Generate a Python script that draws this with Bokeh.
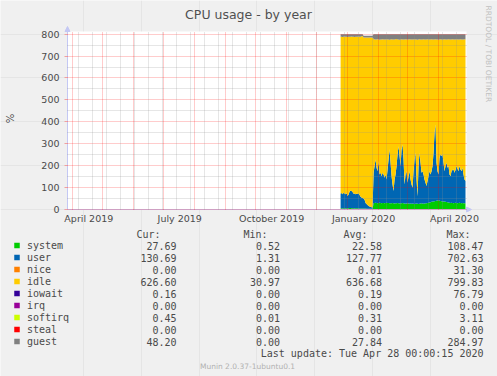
import pandas as pd
from math import pi
from bokeh.plotting import figure
from bokeh.models import (ColumnDataSource, Range1d, FixedTicker, Grid, DatetimeTickFormatter,
                          LinearAxis, DatetimeAxis, BoxAnnotation, Arrow, NormalHead)
from bokeh.core.properties import value
from bokeh.embed import file_html
from bokeh.resources import INLINE

# ---------------- data (daily averages) ----------------
first_day = "2019-12-25"

system = [6, 6, 5, 6, 6, 5, 6, 5, 6, 7, 7, 6, 6, 6, 5, 6, 6, 6, 5, 5,
          5, 4, 4, 4, 4, 4, 3, 3, 3, 3, 3, 3, 3,
          28, 30, 31, 30, 29, 30, 31, 30, 29, 30, 30, 29, 30, 31, 30,
          30, 29, 28, 29, 30, 28, 27, 28, 29, 30, 28, 27, 28, 29, 30, 28, 27, 26, 27, 28, 27, 26, 27,
          26, 27, 26, 25, 26, 27, 26, 25, 26, 27, 28, 27, 26, 27, 28, 29, 30, 31, 32, 33,
          35, 36, 37, 38, 39, 40, 41, 42, 40, 39, 38, 37, 36, 37, 35, 34, 33, 32,
          31, 30, 31, 30, 29, 30, 31, 30, 29, 30, 31, 30, 29, 30, 29, 28, 28]

user = [66, 69, 65, 70, 67, 65, 68, 57, 62, 75, 78, 78, 74, 66, 68, 64, 66, 65, 69, 61,
        53, 51, 48, 46, 41, 26, 22, 17, 13, 11, 9, 7, 6,
        140, 168, 197, 160, 146, 190, 129, 138, 123, 138, 130, 116, 130, 106, 153,
        198, 246, 185, 123, 84, 56, 110, 132, 169, 221, 261, 217, 170, 245, 267, 200, 87, 134, 148, 94, 125, 149, 110,
        88, 72, 149, 203, 233, 110, 35, 173, 233, 186, 140, 148, 134, 110, 94, 78, 100, 121, 143, 127,
        140, 162, 222, 312, 349, 173, 134, 118, 196, 212, 206, 214, 177, 138, 163, 179, 157, 166,
        129, 122, 144, 150, 154, 138, 149, 168, 157, 145, 167, 153, 146, 160, 131, 109, 102]

idle = [716, 713, 717, 712, 716, 718, 714, 725, 720, 706, 703, 705, 708, 716, 714, 718, 716, 717, 715, 722,
        730, 735, 739, 735, 740, 755, 760, 765, 769, 771, 773, 775, 776,
        610, 578, 547, 586, 602, 556, 614, 607, 624, 609, 616, 630, 616, 640, 593,
        547, 499, 563, 625, 662, 691, 639, 617, 580, 525, 486, 530, 578, 503, 479, 547, 662, 617, 601, 653, 624, 602, 639,
        662, 676, 601, 549, 517, 638, 713, 578, 518, 563, 607, 601, 617, 639, 653, 669, 647, 624, 600, 616,
        602, 578, 516, 426, 389, 563, 600, 614, 540, 526, 532, 524, 563, 602, 578, 562, 586, 579,
        616, 623, 601, 597, 593, 607, 596, 579, 590, 600, 578, 594, 601, 585, 616, 640, 646]

guest = [12, 12, 13, 12, 11, 12, 12, 13, 12, 12, 12, 11, 12, 12, 13, 12, 12, 12, 11, 12,
         12, 10, 9, 8, 8, 8, 8, 8, 8, 8, 8, 8, 8,
         22, 24, 25, 24, 23, 24, 26, 25, 24, 23, 24, 25, 24, 23, 24,
         25, 26, 24, 23, 24, 25, 24, 23, 22, 24, 25, 26, 24, 23, 24, 25, 24, 23, 24, 25, 24, 23, 24,
         24, 25, 24, 23, 24, 25, 26, 24, 23, 24, 25, 24, 23, 24, 25, 24, 23, 24, 25, 24,
         23, 24, 25, 24, 23, 24, 25, 26, 24, 23, 24, 25, 24, 23, 24, 25, 24, 23,
         24, 25, 24, 23, 24, 25, 24, 23, 24, 25, 24, 23, 24, 25, 24, 23, 24]

series_names = ["system", "user", "nice", "idle", "iowait", "irq", "softirq", "steal", "guest"]
series_colors = ["#00CC00", "#0066B3", "#FF8000", "#FFCC00", "#330099", "#990099", "#CCFF00", "#FF0000", "#808080"]
cur_vals = ["27.69", "130.69", "0.00", "626.60", "0.16", "0.00", "0.45", "0.00", "48.20"]
min_vals = ["0.52", "1.31", "0.00", "30.97", "0.00", "0.00", "0.01", "0.00", "0.00"]
avg_vals = ["22.58", "127.77", "0.01", "636.68", "0.19", "0.00", "0.31", "0.00", "27.84"]
max_vals = ["108.47", "702.63", "31.30", "799.83", "76.79", "0.00", "3.11", "0.00", "284.97"]
col_heads = ["Cur:", "Min:", "Avg:", "Max:"]

x_labels_at = ["2019-04-17", "2019-07-17", "2019-10-17", "2020-01-17", "2020-04-17"]
y_ticks = [0, 100, 200, 300, 400, 500, 600, 700, 800]
y_top = 812
x_start, x_end = "2019-03-26 16:00", "2020-04-29 00:00"

title_text = "CPU usage - by year"
side_text = "RRDTOOL / TOBI OETIKER"
update_text = "Last update: Tue Apr 28 00:00:15 2020"
version_text = "Munin 2.0.37-1ubuntu0.1"

# ---------------- layout constants (page pixels) ----------------
W, H = 497, 376
CL, CR, CT, CB = 67, 466, 31, 209        # chart area inside the page
BG = "#F0F0F0"
TXT = "#4a4a4a"
AXC = "#c4c8f4"
MONO = value("DejaVu Sans Mono")
SANS = value("DejaVu Sans")


def ms(t):
    return pd.Timestamp(t).value / 1e6


X0, X1 = ms(x_start), ms(x_end)
ms_px = (X1 - X0) / (CR - CL)
u_px = y_top / (CB - CT)

# one frame covering the whole page; the chart's ranges are widened so that
# the chart occupies its place in the page
p = figure(width=W, height=H, title=None, output_backend="svg", toolbar_location=None,
           x_axis_location=None, y_axis_location=None,
           x_range=Range1d(X0 - CL * ms_px, X1 + (W - CR) * ms_px),
           y_range=Range1d(-(H - CB) * u_px, y_top + CT * u_px),
           min_border=0, min_border_left=0, min_border_right=0, min_border_top=0, min_border_bottom=0,
           background_fill_color=BG, border_fill_color=BG, outline_line_color=None)
p.extra_x_ranges = {"px": Range1d(0, W)}
p.extra_y_ranges = {"px": Range1d(H, 0)}

# white chart background
p.add_layout(BoxAnnotation(left=X0, right=X1, bottom=0, top=y_top, fill_color="white", fill_alpha=1,
                           line_color=None, level="underlay"))

dates = pd.date_range(first_day, periods=len(system), freq="D")
src = ColumnDataSource(dict(date=dates, system=system, user=user, idle=idle, guest=guest))
p.varea_stack(stackers=["system", "user", "idle", "guest"], x="date",
              color=[series_colors[0], series_colors[1], series_colors[3], series_colors[8]], source=src)

# grids drawn over the data like rrdtool
month_lines = [ms(t) for t in pd.date_range("2019-04-01", "2020-04-01", freq="MS")]
week_lines = [ms(t) for t in pd.date_range("2019-04-07", "2020-04-28", freq="14D")]
p.add_layout(Grid(dimension=1, ticker=FixedTicker(ticks=y_ticks, minor_ticks=[v + 50 for v in y_ticks[:-1]]),
                  cross_bounds=(X0, X1), grid_line_color="#ff0000", grid_line_alpha=0.4, grid_line_dash="1 1",
                  minor_grid_line_color="#909090", minor_grid_line_alpha=0.45, minor_grid_line_dash="1 1",
                  level="overlay"))
p.add_layout(Grid(dimension=0, ticker=FixedTicker(ticks=week_lines), cross_bounds=(0, y_top),
                  grid_line_color="#909090", grid_line_alpha=0.45, grid_line_dash="1 1", level="overlay"))
p.add_layout(Grid(dimension=0, ticker=FixedTicker(ticks=month_lines), cross_bounds=(0, y_top),
                  grid_line_color="#ff0000", grid_line_alpha=0.4, grid_line_dash="1 1", level="overlay"))

# axes fixed at the chart's edges
yax = LinearAxis(fixed_location=X0, ticker=FixedTicker(ticks=y_ticks), bounds=(0, y_top + 4 * u_px),
                 axis_line_color=AXC, major_tick_line_color="#f0a0a0", major_tick_out=3, major_tick_in=0,
                 minor_tick_line_color=None, major_label_standoff=5,
                 major_label_text_font="DejaVu Sans", major_label_text_font_size="9.5px",
                 major_label_text_color=TXT,
                 axis_label="%", axis_label_standoff=22, axis_label_text_font="DejaVu Sans",
                 axis_label_text_font_size="10px", axis_label_text_font_style="normal",
                 axis_label_text_color=TXT)
p.add_layout(yax, "left")

fmt = "%B %Y"
xax = DatetimeAxis(fixed_location=0, ticker=FixedTicker(ticks=[ms(t) for t in x_labels_at]),
                   formatter=DatetimeTickFormatter(milliseconds=fmt, seconds=fmt, minsec=fmt, minutes=fmt,
                                                   hourmin=fmt, hours=fmt, days=fmt, months=fmt, years=fmt),
                   bounds=(X0 - 3 * ms_px, X1 + 4 * ms_px),
                   axis_line_color=AXC, major_tick_line_color=None, major_tick_out=0, major_tick_in=0,
                   minor_tick_line_color=None, major_label_standoff=3,
                   major_label_text_font="DejaVu Sans", major_label_text_font_size="9.5px",
                   major_label_text_color=TXT)
p.add_layout(xax, "below")

# arrow heads at the axis ends
p.add_layout(Arrow(x_start=X0, y_start=y_top, x_end=X0, y_end=y_top + 5 * u_px, line_color=AXC,
                   end=NormalHead(size=5, fill_color=AXC, line_color=AXC)))
p.add_layout(Arrow(x_start=X1, y_start=0, x_end=X1 + 5 * ms_px, y_end=0, line_color=AXC,
                   end=NormalHead(size=5, fill_color=AXC, line_color=AXC)))

# ---------------- texts (page pixel coordinates) ----------------
px = dict(x_range_name="px", y_range_name="px")
p.text(x=[248], y=[13.5], text=[title_text], text_font=SANS, text_font_size="12.5px",
       text_color="#505050", text_align="center", text_baseline="middle", **px)
p.text(x=[487.5], y=[5], text=[side_text], text_font=SANS, text_font_size="7.5px",
       text_color="#c0c0c0", text_align="left", text_baseline="middle", angle=-pi / 2, **px)

row_y = [245 + 12 * i for i in range(len(series_names))]
p.scatter(x=[16.5] * len(row_y), y=row_y, marker="square", size=5.5, color=series_colors, line_color=None, **px)
p.text(x=[26.5] * len(row_y), y=row_y, text=series_names, text_font=MONO, text_font_size="10px",
       text_color=TXT, text_align="left", text_baseline="middle", **px)
col_right = [176, 279.5, 381.5, 483]
for cx, vals in zip(col_right, [cur_vals, min_vals, avg_vals, max_vals]):
    p.text(x=[cx] * len(row_y), y=row_y, text=vals, text_font=MONO, text_font_size="10px",
           text_color=TXT, text_align="right", text_baseline="middle", **px)
p.text(x=[160, 267, 367, 470], y=[233.5] * 4, text=col_heads, text_font=MONO, text_font_size="10px",
       text_color=TXT, text_align="right", text_baseline="middle", **px)
p.text(x=[483], y=[353], text=[update_text], text_font=MONO, text_font_size="10px",
       text_color=TXT, text_align="right", text_baseline="middle", **px)
p.text(x=[247], y=[366], text=[version_text], text_font=SANS, text_font_size="7.5px",
       text_color="#b0b0b0", text_align="center", text_baseline="middle", **px)

open("out.html", "w").write(file_html(p, INLINE))
